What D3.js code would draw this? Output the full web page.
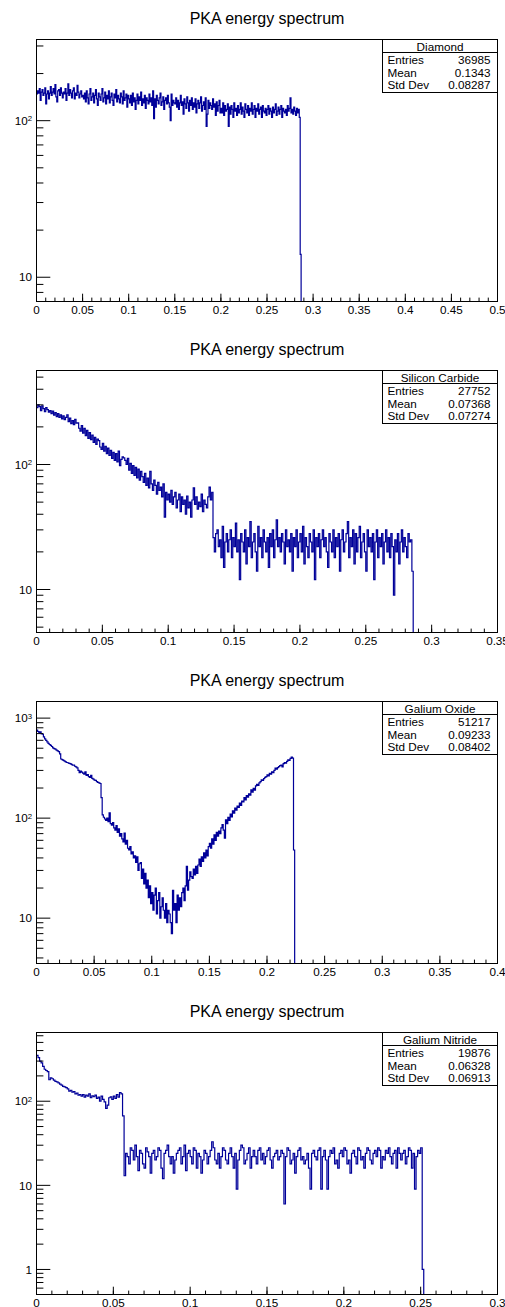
<!DOCTYPE html>
<html>
<head>
<meta charset="utf-8">
<script src="https://cdn.jsdelivr.net/npm/d3@7"></script>
<style>
body { margin: 0; background: #fff; }
svg { display: block; font-family: "Liberation Sans", Arial, Helvetica, sans-serif; }
</style>
</head>
<body>
<svg id="spectra" width="505" height="1307"></svg>
<script>
// counts per bin (bin width 0.001); bins past the end are empty
var diamond = [
	148,155,150,160,135,152,158,145,150,162,
	128,148,155,138,150,165,145,152,160,148,
	170,142,132,155,158,145,162,150,140,152,
	148,160,135,150,172,145,158,150,140,155,
	162,138,150,145,168,152,140,148,155,142,
	145,138,150,132,155,140,128,148,160,135,
	142,150,130,145,158,138,125,150,142,135,
	148,160,132,140,152,128,145,138,155,130,
	142,150,135,125,148,140,158,132,145,138,
	130,150,142,128,155,135,140,148,122,145,
	138,130,145,125,150,132,140,118,135,148,
	128,142,135,152,125,138,130,145,120,140,
	135,128,148,132,140,125,155,103,138,122,
	145,135,128,140,150,125,132,142,118,135,
	140,128,145,130,122,100,148,125,135,130,
	128,140,122,135,118,130,145,125,132,110,
	138,128,120,142,130,115,135,125,140,118,
	130,122,138,112,128,135,120,130,142,115,
	125,132,118,140,92,110,135,120,130,125,
	118,138,122,128,108,132,115,125,135,112,
	120,112,130,108,125,115,118,128,92,122,
	110,125,118,105,130,115,120,108,125,112,
	118,130,110,122,115,105,128,118,112,125,
	108,120,115,130,110,118,125,105,120,115,
	128,110,118,122,105,125,115,112,120,108,
	118,125,110,120,115,105,122,112,118,128,
	108,115,122,110,118,125,105,120,115,112,
	118,108,125,115,120,140,112,118,110,122,
	115,108,120,112,118,105,14];

var siliconCarbide = [
	285,300,290,270,295,280,265,285,275,262,
	270,255,268,248,260,242,255,238,250,232,
	245,228,238,250,220,235,212,225,208,230,
	214,215,195,185,205,178,195,170,188,162,
	180,158,172,150,165,145,160,155,138,132,
	148,128,140,122,135,118,130,112,125,108,
	122,105,128,98,110,115,113,108,100,112,
	90,102,85,98,82,95,78,92,75,88,
	80,72,85,68,78,65,88,70,62,75,
	68,58,72,62,66,55,70,38,60,52,
	58,50,62,48,55,60,45,52,58,42,
	55,48,52,40,56,45,50,38,52,65,
	48,55,44,50,46,58,42,52,48,45,
	55,66,52,60,
	26,20,28,30,22,25,18,32,15,24,
	28,20,25,30,18,26,22,34,20,25,
	12,28,24,20,30,16,26,22,35,18,
	24,28,20,14,32,22,26,18,30,24,
	20,26,15,28,22,30,18,25,36,22,
	26,20,28,24,16,30,22,25,20,28,
	14,26,22,30,18,24,28,20,32,16,
	26,22,18,28,24,20,30,12,26,22,
	28,18,25,30,22,26,20,15,28,24,
	20,30,18,26,22,28,14,25,30,20,
	24,28,35,18,26,22,30,16,28,20,
	26,32,18,24,28,20,14,30,22,26,
	20,28,12,24,30,18,26,22,28,16,
	24,30,20,26,18,28,22,9,25,20,
	28,16,24,30,20,26,22,18,28,24,25,14];

var galiumOxide = [
	760,735,720,728,700,690,650,620,600,580,
	560,545,535,520,505,495,490,478,470,462,
	440,390,385,378,372,365,360,358,352,350,
	345,338,340,330,325,318,300,285,295,288,
	282,275,290,268,272,260,255,268,250,245,
	240,238,232,228,225,222,160,108,102,98,
	95,100,92,113,88,85,90,80,76,84,
	72,78,66,70,62,58,71,55,60,50,
	48,52,44,46,40,42,36,41,30,35,
	36,25,31,22,28,20,24,16,21,14,
	18,12,17,20,11,15,18,10,13,16,
	12,10,14,9,12,11,9,7,19,12,
	14,9,17,12,16,13,18,20,15,21,
	33,19,24,29,26,25,31,27,33,28,
	34,39,33,41,37,45,40,48,42,52,
	56,50,62,55,68,60,72,66,74,70,
	80,86,76,63,96,88,102,95,110,103,
	118,112,126,120,132,128,141,134,148,145,
	160,152,168,162,175,170,192,182,198,190,
	210,218,212,225,232,242,238,248,255,260,
	271,265,280,275,290,285,300,316,308,320,
	328,335,340,325,350,360,355,370,383,378,
	395,407,398,48];

var galiumNitride = [
	350,330,300,285,260,240,232,225,180,190,
	185,178,172,170,165,160,155,150,148,145,
	140,132,135,128,130,122,125,118,120,115,
	120,112,118,115,122,110,116,113,118,108,
	112,100,115,105,98,82,90,110,113,105,
	115,108,120,112,127,122,67,
	13,24,22,18,28,26,20,30,22,15,
	26,24,18,16,28,25,22,14,24,26,
	20,22,28,26,16,12,24,26,30,22,
	18,22,14,20,24,26,28,18,22,30,
	15,24,26,22,18,28,26,16,24,22,
	14,20,26,24,18,22,26,33,28,20,
	18,24,16,22,28,26,20,18,24,28,
	22,16,24,9,20,26,30,28,18,20,
	24,28,16,22,26,22,18,26,28,20,
	24,18,22,26,28,20,16,22,24,26,
	20,22,26,24,6,22,28,26,18,20,
	24,14,22,26,28,20,22,18,20,24,
	16,9,24,26,22,20,26,28,9,22,
	26,20,9,22,26,24,28,18,20,16,
	24,26,22,28,26,18,20,14,24,26,
	22,18,28,26,20,22,16,24,28,26,
	20,18,24,26,22,28,26,16,22,20,
	26,24,28,22,18,24,26,16,28,24,
	20,24,26,18,22,28,26,16,24,9,
	22,26,24,28,1];

var names = ["Diamond", "Silicon Carbide", "Galium Oxide", "Galium Nitride"];
var entries = ["36985", "27752", "51217", "19876"];
var means = ["0.1343", "0.07368", "0.09233", "0.06328"];
var stdDevs = ["0.08287", "0.07274", "0.08402", "0.06913"];
var xMaxes = [0.5, 0.35, 0.4, 0.3];
var yRanges = [[7.0, 330], [4.53, 565], [3.52, 1466], [0.504, 656]];
var series = [diamond, siliconCarbide, galiumOxide, galiumNitride];
var binWidth = 0.001;
var title = "PKA energy spectrum";

var svg = d3.select("#spectra"),
	padHeight = 331,
	frame = {top: 39.5, left: 36.5, bottom: 301.5, right: 497.5},
	lineColor = "#000099";

var fmt = d => String(+d.toFixed(3));

series.forEach(function(counts, p) {
	var g = svg.append("g").attr("transform", `translate(0,${p * padHeight})`);
	var xMax = xMaxes[p];

	var x = d3.scaleLinear()
		.domain([0, xMax])
		.range([frame.left, frame.right]);

	var y = d3.scaleLog()
		.domain(yRanges[p])
		.range([frame.bottom, frame.top]);

	g.append("text")
		.attr("x", (frame.left + frame.right) / 2)
		.attr("y", 23.5)
		.attr("text-anchor", "middle")
		.style("font-size", "16px")
		.text(title);

	// histogram outline, empty bins sit on the frame bottom
	var nBins = Math.round(xMax / binWidth);
	var pts = d3.range(nBins).map(i => [i * binWidth, counts[i] || 0]);
	pts.push([xMax, pts[pts.length - 1][1]]);

	var step = d3.line()
		.x(d => x(d[0]))
		.y(d => d[1] > 0 ? y(d[1]) : frame.bottom)
		.curve(d3.curveStepAfter);

	g.append("path")
		.attr("d", step(pts))
		.attr("fill", "none")
		.attr("stroke", lineColor)
		.attr("stroke-width", 1.2);

	// x ticks (drawn inward)
	var major = x.ticks(Math.round(xMax / 0.05));
	var minor = x.ticks(Math.round(xMax / 0.01));

	g.selectAll(".xminor").data(minor).enter().append("line")
		.attr("x1", d => x(d)).attr("x2", d => x(d))
		.attr("y1", frame.bottom).attr("y2", frame.bottom - 3.9)
		.attr("stroke", "#000");

	g.selectAll(".xmajor").data(major).enter().append("line")
		.attr("x1", d => x(d)).attr("x2", d => x(d))
		.attr("y1", frame.bottom).attr("y2", frame.bottom - 7.8)
		.attr("stroke", "#000");

	g.selectAll(".xlab").data(major).enter().append("text")
		.attr("x", d => x(d))
		.attr("y", frame.bottom + 12.5)
		.attr("text-anchor", "middle")
		.style("font-size", "11.7px")
		.text(fmt);

	// y ticks, log decades get labels
	var yt = y.ticks().filter(d => y(d) < frame.bottom - 0.5 && y(d) > frame.top + 0.5);
	var isDecade = d => Math.abs(Math.log10(d) - Math.round(Math.log10(d))) < 1e-6;

	g.selectAll(".ytick").data(yt).enter().append("line")
		.attr("x1", frame.left)
		.attr("x2", d => frame.left + (isDecade(d) ? 13.8 : 6.9))
		.attr("y1", d => y(d)).attr("y2", d => y(d))
		.attr("stroke", "#000");

	var ylab = g.selectAll(".ylab").data(yt.filter(isDecade)).enter().append("text")
		.attr("x", 32)
		.attr("y", d => y(d))
		.attr("dy", "0.36em")
		.attr("text-anchor", "end")
		.style("font-size", "11.7px");

	ylab.each(function(d) {
		var e = Math.round(Math.log10(d));
		var t = d3.select(this);
		if (e == 0) t.text("1");
		else if (e == 1) t.text("10");
		else {
			t.append("tspan").text("10");
			t.append("tspan").attr("dy", "-0.45em").style("font-size", "7.8px").text(e);
		}
	});

	// frame
	g.append("rect")
		.attr("x", frame.left).attr("y", frame.top)
		.attr("width", frame.right - frame.left)
		.attr("height", frame.bottom - frame.top)
		.attr("fill", "none")
		.attr("stroke", "#000");

	// stats box
	var bx0 = 382.5, bx1 = frame.right, by0 = frame.top, by1 = 92.5;
	g.append("rect")
		.attr("x", bx0).attr("y", by0)
		.attr("width", bx1 - bx0).attr("height", by1 - by0)
		.attr("fill", "#fff").attr("stroke", "#000");
	g.append("line")
		.attr("x1", bx0).attr("x2", bx1)
		.attr("y1", 52.5).attr("y2", 52.5)
		.attr("stroke", "#000");
	g.append("text")
		.attr("x", (bx0 + bx1) / 2).attr("y", 50.5)
		.attr("text-anchor", "middle")
		.style("font-size", "11.7px")
		.text(names[p]);

	var rows = [["Entries", entries[p]], ["Mean", means[p]], ["Std Dev", stdDevs[p]]];
	rows.forEach(function(r, i) {
		g.append("text")
			.attr("x", bx0 + 5).attr("y", 64 + i * 12.7)
			.style("font-size", "11.7px")
			.text(r[0]);
		g.append("text")
			.attr("x", bx1 - 7).attr("y", 64 + i * 12.7)
			.attr("text-anchor", "end")
			.style("font-size", "11.7px")
			.text(r[1]);
	});
});
</script>
</body>
</html>
